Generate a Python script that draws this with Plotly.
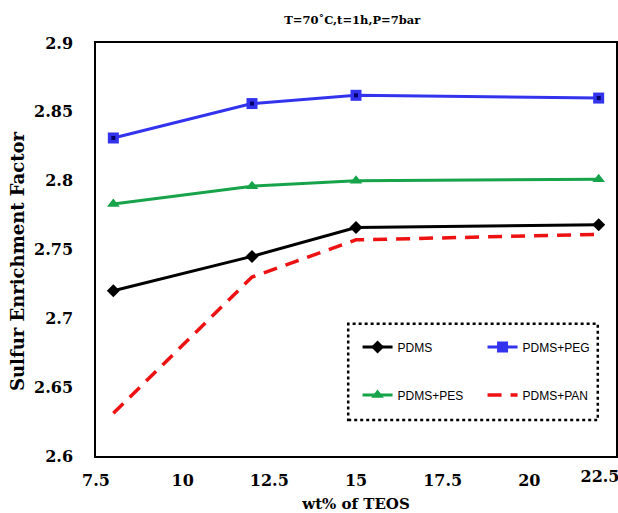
import plotly.graph_objects as go

x_teos = [8, 12, 15, 22]
pdms = [2.720, 2.745, 2.766, 2.768]
pdms_peg = [2.831, 2.856, 2.862, 2.860]
pdms_pes = [2.783, 2.796, 2.800, 2.801]
pdms_pan = [2.631, 2.730, 2.757, 2.761]

x_ticks = [7.5, 10, 12.5, 15, 17.5, 20]
x_last_tick = [22.5]
y_ticks = [2.6, 2.65, 2.7, 2.75, 2.8, 2.85, 2.9]

serif = "DejaVu Serif"

fig = go.Figure()
fig.add_trace(go.Scatter(x=x_teos, y=pdms, name="PDMS", mode="lines+markers",
                         line=dict(color="black", width=3),
                         marker=dict(symbol="diamond", size=10, color="black"),
                         legend="legend"))
fig.add_trace(go.Scatter(x=x_teos, y=pdms_peg, name="PDMS+PEG", mode="lines+markers",
                         line=dict(color="#3333ee", width=3),
                         marker=dict(symbol="square", size=11, color="#3333ee"),
                         legend="legend"))
fig.add_trace(go.Scatter(x=x_teos, y=pdms_peg, mode="markers", showlegend=False,
                         marker=dict(symbol="square", size=4, color="#000066"),
                         hoverinfo="skip"))
fig.add_trace(go.Scatter(x=x_teos, y=pdms_pes, name="PDMS+PES", mode="lines+markers",
                         line=dict(color="#16a34a", width=3),
                         marker=dict(symbol="triangle-up", size=11, color="#16a34a"),
                         legend="legend2"))
fig.add_trace(go.Scatter(x=x_teos, y=pdms_pan, name="PDMS+PAN", mode="lines",
                         xaxis="x2", yaxis="y",
                         line=dict(color="#ee1111", width=3.5, dash="14px,9px"),
                         legend="legend2"))

tickfont = dict(family=serif, size=16, color="black", weight="bold")
axis_common = dict(showgrid=False, zeroline=False, showline=True, linecolor="black",
                   linewidth=1.5, mirror=True, ticks="", tickfont=tickfont)

fig.update_layout(
    xaxis=dict(range=[7.5, 22.5], tickvals=x_ticks, ticktext=[str(v) for v in x_ticks],
               ticklabelstandoff=9,
               title=dict(text="wt% of TEOS", standoff=10,
                          font=dict(family=serif, size=15, color="black", weight="bold")),
               **axis_common),
    xaxis2=dict(range=[7.5, 22.5], overlaying="x", side="bottom", anchor="y",
                tickvals=x_last_tick, ticktext=[str(v) for v in x_last_tick],
                ticklabelstandoff=9, ticklabelshift=-16, ticklabeloverflow="allow",
                showgrid=False, zeroline=False, showline=False, ticks="", tickfont=tickfont),
    yaxis=dict(range=[2.6, 2.9], tickvals=y_ticks, ticktext=[str(v) for v in y_ticks],
               ticklabelstandoff=18, **axis_common),
)

leg_common = dict(orientation="h", xanchor="left", yanchor="middle",
                  entrywidth=80, entrywidthmode="pixels",
                  bgcolor="rgba(0,0,0,0)", borderwidth=0,
                  font=dict(family="Liberation Sans", size=12, color="black"))

fig.update_layout(
    width=618, height=513,
    margin=dict(l=96, r=2, t=43, b=57, autoexpand=False),
    paper_bgcolor="white", plot_bgcolor="white",
    title=dict(text="T=70˚C,t=1h,P=7bar", x=0.57, xanchor="center", y=0.962, yanchor="middle",
               font=dict(family=serif, size=11.5, color="black", weight="bold")),
    legend=dict(x=0.503, y=0.264, **leg_common),
    legend2=dict(x=0.503, y=0.148, **leg_common),
    annotations=[dict(text="Sulfur Enrichment Factor", textangle=-90, xref="paper", yref="paper",
                      x=-0.152, y=0.472, xanchor="center", yanchor="middle", showarrow=False,
                      font=dict(family=serif, size=18, color="black", weight="bold"))],
    shapes=[dict(type="rect", xref="paper", yref="paper", x0=0.485, x1=0.965, y0=0.087, y1=0.320,
                 line=dict(color="black", width=2.5, dash="dot"), fillcolor="rgba(0,0,0,0)")],
)

fig.write_html("out.html")
